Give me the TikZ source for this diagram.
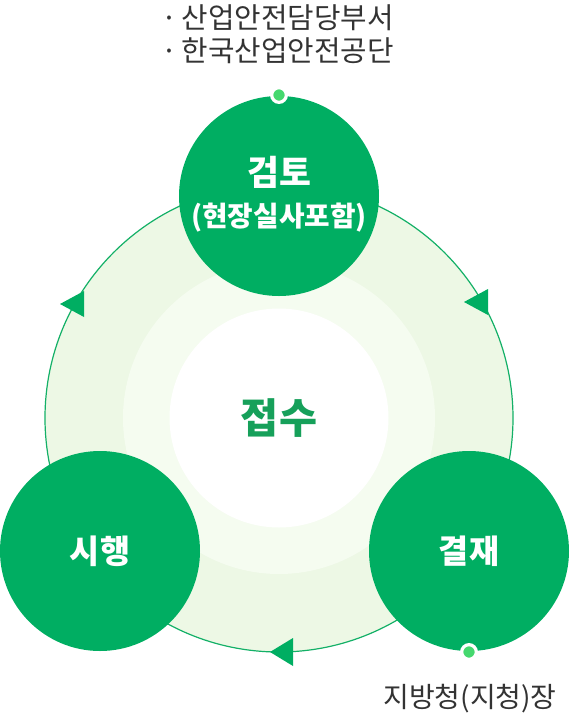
\documentclass[tikz,border=0pt]{standalone}
\usepackage{fontspec}
\setmainfont{Noto Sans CJK KR}
\definecolor{mgreen}{HTML}{00AE62}
\definecolor{tgreen}{HTML}{16A05A}
\definecolor{ringA}{HTML}{EDF8E5}
\definecolor{ringB}{HTML}{F5FCF0}
\definecolor{linegreen}{HTML}{13B067}
\definecolor{dotgreen}{HTML}{45D86E}
\definecolor{txtgray}{HTML}{333333}
\tikzset{
  bigstep/.style={circle, fill=mgreen, minimum size=150pt, inner sep=0pt, text=white, font=\bfseries\fontsize{24.5}{28}\selectfont, align=center},
  arrowtri/.style={fill=mgreen},
  dotmark/.style={circle, fill=dotgreen, draw=white, line width=2.4pt, minimum size=11pt, inner sep=0pt},
  graytext/.style={text=txtgray, align=left, anchor=west, inner sep=0pt}
}
\begin{document}
\begin{tikzpicture}[x=0.75pt,y=-0.75pt]
\useasboundingbox (0,0) rectangle (570,719);
% rings
\coordinate (c) at (279,418);
\fill[ringA] (c) circle (234);
\draw[linegreen, line width=0.9pt] (c) circle (234);
\fill[ringB] (c) circle (156);
\fill[white] (c) circle (109.5);
% arrows (left-pointing triangles on the cycle)
\fill[arrowtri] (60,304) -- (84,291) -- (84,317) -- cycle;
\fill[arrowtri] (464,302) -- (488,289) -- (488,315) -- cycle;
\fill[arrowtri] (270,652) -- (293,638) -- (293,666) -- cycle;
% big circles
\node[bigstep] (review) at (279,196) {};
\node[bigstep] (exec) at (100,551) {시행};
\node[bigstep] (approve) at (469,551) {결재};
\node[text=white, font=\bfseries\fontsize{26}{30}\selectfont] (reviewA) at (279,172) {검토};
\node[text=white, font=\bfseries\fontsize{20.8}{24}\selectfont] (reviewB) at (279,218) {(현장실사포함)};
% center
\node[text=tgreen, font=\bfseries\fontsize{31}{35}\selectfont] (recv) at (279,418) {접수};
% dots
\node[dotmark] (dtop) at (279,95) {};
\node[dotmark] (dbot) at (469,652) {};
% labels
\node[graytext, font=\fontsize{21.6}{27}\selectfont] (lab1) at (161,18) {·\hspace{0.15em}산업안전담당부서};
\node[graytext, font=\fontsize{21.6}{27}\selectfont] (lab2) at (161,51) {·\hspace{0.15em}한국산업안전공단};
\node[text=txtgray, inner sep=0pt, font=\fontsize{21}{25}\selectfont] (lab3) at (470,699) {지방청(지청)장};
\end{tikzpicture}
\end{document}
